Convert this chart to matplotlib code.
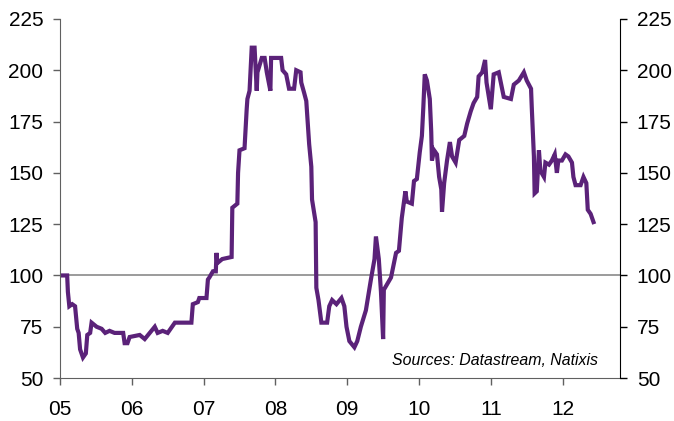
import matplotlib
matplotlib.use("Agg")
import matplotlib.pyplot as plt

# decimal years and index values
years = [2005.00, 2005.10, 2005.11, 2005.13, 2005.17, 2005.21, 2005.24, 2005.26,
         2005.28, 2005.32, 2005.36, 2005.38, 2005.42, 2005.44, 2005.51, 2005.58,
         2005.63, 2005.69, 2005.76, 2005.88, 2005.90, 2005.94, 2005.97, 2006.11,
         2006.18, 2006.25, 2006.32, 2006.36, 2006.43, 2006.50, 2006.60, 2006.83,
         2006.85, 2006.92, 2006.94, 2007.04, 2007.06, 2007.08, 2007.13, 2007.17,
         2007.18, 2007.19, 2007.26, 2007.39, 2007.40, 2007.47, 2007.48, 2007.50,
         2007.57, 2007.60, 2007.61, 2007.64, 2007.67, 2007.71, 2007.74, 2007.75,
         2007.81, 2007.85, 2007.88, 2007.93, 2007.94, 2008.08, 2008.10, 2008.15,
         2008.19, 2008.26, 2008.29, 2008.35, 2008.36, 2008.40, 2008.43, 2008.47,
         2008.50, 2008.51, 2008.56, 2008.57, 2008.60, 2008.64, 2008.72, 2008.75,
         2008.79, 2008.85, 2008.92, 2008.96, 2008.99, 2009.03, 2009.10, 2009.14,
         2009.19, 2009.26, 2009.33, 2009.38, 2009.40, 2009.44, 2009.47, 2009.50,
         2009.51, 2009.56, 2009.61, 2009.68, 2009.72, 2009.76, 2009.81, 2009.83,
         2009.90, 2009.93, 2009.97, 2010.01, 2010.04, 2010.06, 2010.08, 2010.11,
         2010.15, 2010.17, 2010.18, 2010.21, 2010.25, 2010.28, 2010.31, 2010.32,
         2010.35, 2010.39, 2010.43, 2010.46, 2010.51, 2010.56, 2010.63, 2010.67,
         2010.72, 2010.76, 2010.81, 2010.83, 2010.88, 2010.92, 2010.94, 2011.00,
         2011.04, 2011.11, 2011.18, 2011.28, 2011.32, 2011.39, 2011.46, 2011.50,
         2011.56, 2011.57, 2011.60, 2011.61, 2011.64, 2011.67, 2011.69, 2011.74,
         2011.76, 2011.81, 2011.85, 2011.89, 2011.92, 2011.94, 2011.99, 2012.04,
         2012.08, 2012.13, 2012.15, 2012.18, 2012.25, 2012.29, 2012.33, 2012.35,
         2012.39, 2012.43]
index = [100, 100, 92, 85, 86, 85, 74, 72,
         64, 60, 62, 71, 72, 77, 75, 74,
         72, 73, 72, 72, 67, 67, 70, 71,
         69, 72, 75, 72, 73, 72, 77, 77,
         86, 87, 89, 89, 98, 99, 102, 102,
         111, 106, 108, 109, 133, 135, 150, 161,
         162, 181, 186, 190, 211, 211, 190, 199,
         206, 206, 199, 190, 206, 206, 200, 198,
         191, 191, 200, 199, 194, 189, 185, 164,
         153, 137, 126, 94, 88, 77, 77, 85,
         88, 86, 89, 85, 75, 68, 65, 68,
         75, 83, 98, 108, 119, 108, 92, 69,
         93, 96, 99, 111, 112, 128, 141, 136,
         135, 146, 147, 160, 168, 182, 198, 195,
         186, 170, 156, 161, 159, 148, 142, 131,
         145, 156, 165, 158, 155, 166, 168, 174,
         180, 184, 187, 197, 199, 205, 194, 181,
         198, 199, 187, 186, 193, 195, 199, 195,
         191, 182, 158, 140, 141, 161, 151, 148,
         155, 154, 156, 159, 150, 156, 156, 159,
         158, 155, 148, 144, 144, 148, 145, 132,
         130, 126]

year_ticks = [2005, 2006, 2007, 2008, 2009, 2010, 2011, 2012]
year_labels = ["05", "06", "07", "08", "09", "10", "11", "12"]
y_ticks = [50, 75, 100, 125, 150, 175, 200, 225]

plt.rcParams["font.family"] = ["Liberation Sans", "DejaVu Sans"]

fig = plt.figure(figsize=(6.74, 4.21), dpi=100)
ax = fig.add_axes([0.089, 0.102, 0.831, 0.853])

ax.axhline(100, color="#808080", lw=1.1, zorder=1)
ax.plot(years, index, color="#5b2279", lw=3, solid_joinstyle="miter", zorder=2)

ax.set_xlim(2005, 2012.8)
ax.set_ylim(50, 225)
ax.set_xticks(year_ticks)
ax.set_xticklabels(year_labels)
ax.set_yticks(y_ticks)

ax.spines["top"].set_visible(False)
ax.spines["right"].set_visible(False)
ax.spines["left"].set_color("#606060")
ax.spines["bottom"].set_color("#606060")
ax.tick_params(axis="both", direction="out", length=5, width=1, colors="#606060",
               labelcolor="black", labelsize=15)
ax.tick_params(axis="y", pad=7)
ax.tick_params(axis="x", pad=11)

ax2 = ax.twinx()
ax2.set_ylim(50, 225)
ax2.set_yticks(y_ticks)
for s in ["top", "left", "bottom"]:
    ax2.spines[s].set_visible(False)
ax2.spines["right"].set_color("black")
ax2.tick_params(axis="y", direction="out", length=5, width=1, colors="black",
                labelsize=15, pad=7)

ax.text(0.961, 0.05, "Sources: Datastream, Natixis", transform=ax.transAxes,
        ha="right", va="center", fontsize=11.4, style="italic")

plt.savefig("out.png", dpi=100)
